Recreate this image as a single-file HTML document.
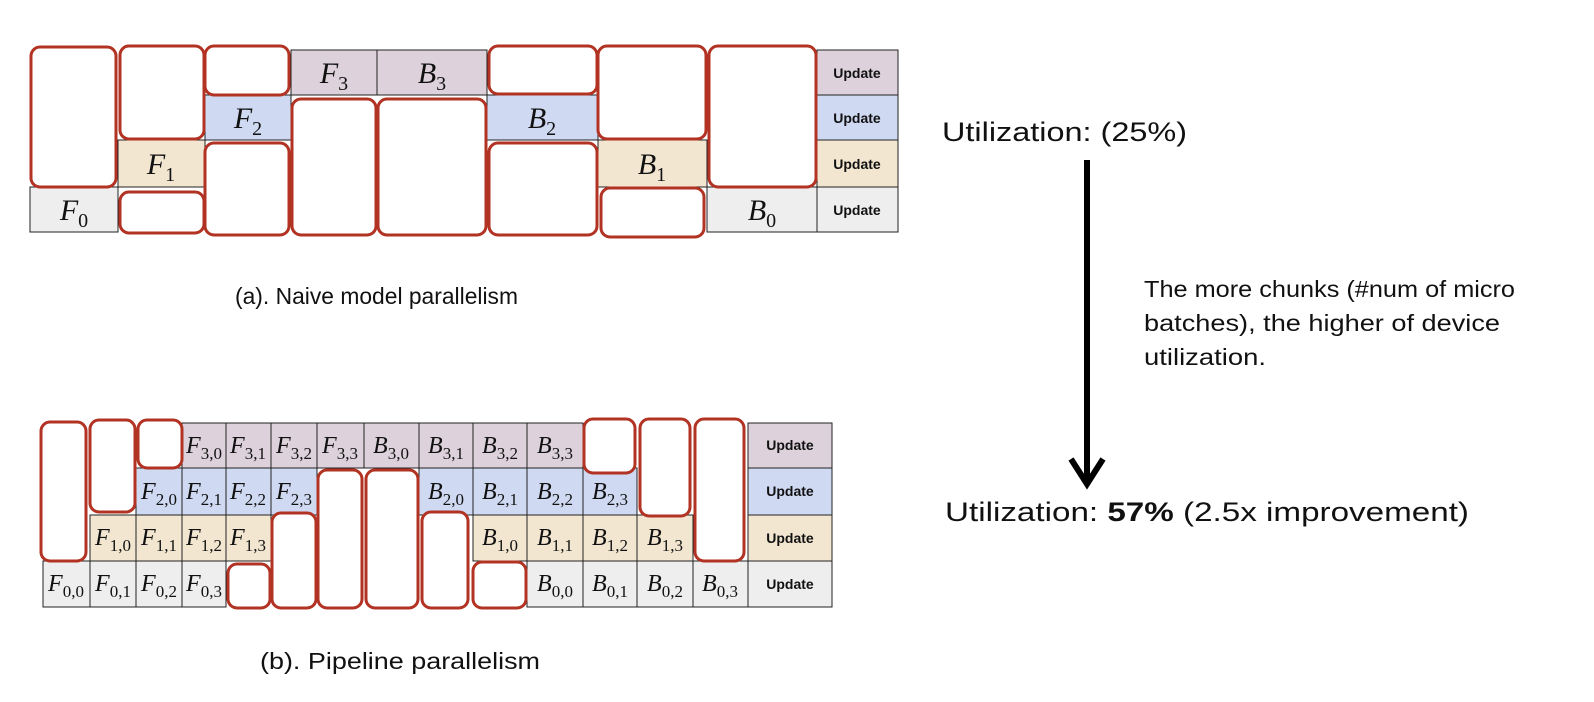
<!DOCTYPE html>
<html><head><meta charset="utf-8"><style>
html,body{margin:0;padding:0;background:#fff;}
svg{display:block}
.m{font-family:"Liberation Serif",serif;font-style:italic;fill:#111;}
.m tspan{font-style:normal}
.t{font-size:30px}.b{font-size:24px}
.u{font-family:"Liberation Sans",sans-serif;font-weight:bold;font-size:14px;fill:#111;}
.c{stroke:#222;stroke-width:1}
.r{fill:#fff;stroke:#b23323;stroke-width:3}
.p{fill:#ddd2db}.bl{fill:#cfd9f2}.tn{fill:#f2e6d1}.g{fill:#eeeeee}
.h{font-family:"Liberation Sans",sans-serif;fill:#111;}
</style></head><body>
<svg width="1594" height="702" viewBox="0 0 1594 702" xmlns="http://www.w3.org/2000/svg">
<!-- TOP -->
<g class="c">
<rect class="p" x="291" y="50" width="86" height="45"/>
<rect class="p" x="377" y="50" width="110" height="45"/>
<rect class="p" x="817" y="50" width="81" height="45"/>
<rect class="bl" x="205" y="95" width="86" height="45"/>
<rect class="bl" x="487" y="95" width="111" height="45"/>
<rect class="bl" x="817" y="95" width="81" height="45"/>
<rect class="tn" x="118" y="140" width="87" height="47"/>
<rect class="tn" x="598" y="140" width="109" height="47"/>
<rect class="tn" x="817" y="140" width="81" height="47"/>
<rect class="g" x="30" y="187" width="88" height="45"/>
<rect class="g" x="707" y="187" width="110" height="45"/>
<rect class="g" x="817" y="187" width="81" height="45"/>
</g>
<g>
<rect class="r" x="31" y="47" width="85" height="140" rx="9"/>
<rect class="r" x="120" y="46" width="84" height="93" rx="9"/>
<rect class="r" x="120" y="192" width="84" height="41" rx="9"/>
<rect class="r" x="205" y="46" width="84" height="49" rx="9"/>
<rect class="r" x="205" y="143" width="84" height="92" rx="9"/>
<rect class="r" x="292" y="99" width="84" height="136" rx="9"/>
<rect class="r" x="378" y="99" width="108" height="136" rx="9"/>
<rect class="r" x="489" y="46" width="108" height="48" rx="9"/>
<rect class="r" x="489" y="143" width="108" height="92" rx="9"/>
<rect class="r" x="598" y="46" width="108" height="93" rx="9"/>
<rect class="r" x="601" y="188" width="103" height="49" rx="9"/>
<rect class="r" x="709" y="46" width="107" height="141" rx="9"/>
</g>
<g class="m t" text-anchor="middle">
<text x="334" y="83">F<tspan font-size="20" dy="7">3</tspan></text>
<text x="432" y="83">B<tspan font-size="20" dy="7">3</tspan></text>
<text x="248" y="128">F<tspan font-size="20" dy="7">2</tspan></text>
<text x="542" y="128">B<tspan font-size="20" dy="7">2</tspan></text>
<text x="161" y="174">F<tspan font-size="20" dy="7">1</tspan></text>
<text x="652" y="174">B<tspan font-size="20" dy="7">1</tspan></text>
<text x="74" y="220">F<tspan font-size="20" dy="7">0</tspan></text>
<text x="762" y="220">B<tspan font-size="20" dy="7">0</tspan></text>
</g>
<g class="u" text-anchor="middle">
<text x="857" y="78">Update</text>
<text x="857" y="123">Update</text>
<text x="857" y="169">Update</text>
<text x="857" y="215">Update</text>
</g>
<text class="h" x="235" y="304" font-size="23" textLength="283" lengthAdjust="spacingAndGlyphs">(a). Naive model parallelism</text>

<!-- BOTTOM -->
<g class="c">
<rect class="p" x="182" y="423" width="44" height="45"/>
<rect class="p" x="226" y="423" width="45" height="45"/>
<rect class="p" x="271" y="423" width="46" height="45"/>
<rect class="p" x="317" y="423" width="47" height="45"/>
<rect class="p" x="364" y="423" width="55" height="45"/>
<rect class="p" x="419" y="423" width="54" height="45"/>
<rect class="p" x="473" y="423" width="54" height="45"/>
<rect class="p" x="527" y="423" width="56" height="45"/>
<rect class="p" x="748" y="423" width="84" height="45"/>

<rect class="bl" x="136" y="468" width="46" height="47"/>
<rect class="bl" x="182" y="468" width="44" height="47"/>
<rect class="bl" x="226" y="468" width="45" height="47"/>
<rect class="bl" x="271" y="468" width="46" height="47"/>
<rect class="bl" x="419" y="468" width="54" height="47"/>
<rect class="bl" x="473" y="468" width="54" height="47"/>
<rect class="bl" x="527" y="468" width="56" height="47"/>
<rect class="bl" x="583" y="468" width="54" height="47"/>
<rect class="bl" x="748" y="468" width="84" height="47"/>

<rect class="tn" x="90" y="515" width="46" height="46"/>
<rect class="tn" x="136" y="515" width="46" height="46"/>
<rect class="tn" x="182" y="515" width="44" height="46"/>
<rect class="tn" x="226" y="515" width="45" height="46"/>
<rect class="tn" x="473" y="515" width="54" height="46"/>
<rect class="tn" x="527" y="515" width="56" height="46"/>
<rect class="tn" x="583" y="515" width="54" height="46"/>
<rect class="tn" x="637" y="515" width="56" height="46"/>
<rect class="tn" x="748" y="515" width="84" height="46"/>

<rect class="g" x="43" y="561" width="47" height="46"/>
<rect class="g" x="90" y="561" width="46" height="46"/>
<rect class="g" x="136" y="561" width="46" height="46"/>
<rect class="g" x="182" y="561" width="44" height="46"/>
<rect class="g" x="527" y="561" width="56" height="46"/>
<rect class="g" x="583" y="561" width="54" height="46"/>
<rect class="g" x="637" y="561" width="56" height="46"/>
<rect class="g" x="693" y="561" width="55" height="46"/>
<rect class="g" x="748" y="561" width="84" height="46"/>
</g>
<g>
<rect class="r" x="41" y="422" width="45" height="139" rx="9"/>
<rect class="r" x="90" y="420" width="45" height="92" rx="9"/>
<rect class="r" x="138" y="420" width="44" height="48" rx="9"/>
<rect class="r" x="584" y="419" width="51" height="54" rx="9"/>
<rect class="r" x="640" y="419" width="50" height="97" rx="9"/>
<rect class="r" x="695" y="419" width="49" height="142" rx="9"/>
<rect class="r" x="318" y="470" width="44" height="138" rx="9"/>
<rect class="r" x="366" y="470" width="52" height="138" rx="9"/>
<rect class="r" x="272" y="513" width="44" height="95" rx="9"/>
<rect class="r" x="422" y="512" width="46" height="96" rx="9"/>
<rect class="r" x="228" y="564" width="42" height="44" rx="9"/>
<rect class="r" x="473" y="562" width="53" height="46" rx="9"/>
</g>
<g class="m b" text-anchor="middle">
<text x="204" y="453">F<tspan font-size="17" dy="6">3,0</tspan></text>
<text x="248" y="453">F<tspan font-size="17" dy="6">3,1</tspan></text>
<text x="294" y="453">F<tspan font-size="17" dy="6">3,2</tspan></text>
<text x="340" y="453">F<tspan font-size="17" dy="6">3,3</tspan></text>
<text x="391" y="453">B<tspan font-size="17" dy="6">3,0</tspan></text>
<text x="446" y="453">B<tspan font-size="17" dy="6">3,1</tspan></text>
<text x="500" y="453">B<tspan font-size="17" dy="6">3,2</tspan></text>
<text x="555" y="453">B<tspan font-size="17" dy="6">3,3</tspan></text>

<text x="159" y="499">F<tspan font-size="17" dy="6">2,0</tspan></text>
<text x="204" y="499">F<tspan font-size="17" dy="6">2,1</tspan></text>
<text x="248" y="499">F<tspan font-size="17" dy="6">2,2</tspan></text>
<text x="294" y="499">F<tspan font-size="17" dy="6">2,3</tspan></text>
<text x="446" y="499">B<tspan font-size="17" dy="6">2,0</tspan></text>
<text x="500" y="499">B<tspan font-size="17" dy="6">2,1</tspan></text>
<text x="555" y="499">B<tspan font-size="17" dy="6">2,2</tspan></text>
<text x="610" y="499">B<tspan font-size="17" dy="6">2,3</tspan></text>

<text x="113" y="545">F<tspan font-size="17" dy="6">1,0</tspan></text>
<text x="159" y="545">F<tspan font-size="17" dy="6">1,1</tspan></text>
<text x="204" y="545">F<tspan font-size="17" dy="6">1,2</tspan></text>
<text x="248" y="545">F<tspan font-size="17" dy="6">1,3</tspan></text>
<text x="500" y="545">B<tspan font-size="17" dy="6">1,0</tspan></text>
<text x="555" y="545">B<tspan font-size="17" dy="6">1,1</tspan></text>
<text x="610" y="545">B<tspan font-size="17" dy="6">1,2</tspan></text>
<text x="665" y="545">B<tspan font-size="17" dy="6">1,3</tspan></text>

<text x="66" y="591">F<tspan font-size="17" dy="6">0,0</tspan></text>
<text x="113" y="591">F<tspan font-size="17" dy="6">0,1</tspan></text>
<text x="159" y="591">F<tspan font-size="17" dy="6">0,2</tspan></text>
<text x="204" y="591">F<tspan font-size="17" dy="6">0,3</tspan></text>
<text x="555" y="591">B<tspan font-size="17" dy="6">0,0</tspan></text>
<text x="610" y="591">B<tspan font-size="17" dy="6">0,1</tspan></text>
<text x="665" y="591">B<tspan font-size="17" dy="6">0,2</tspan></text>
<text x="720" y="591">B<tspan font-size="17" dy="6">0,3</tspan></text>
</g>
<g class="u" text-anchor="middle">
<text x="790" y="450">Update</text>
<text x="790" y="496">Update</text>
<text x="790" y="543">Update</text>
<text x="790" y="589">Update</text>
</g>
<text class="h" x="260" y="669" font-size="23" textLength="280" lengthAdjust="spacingAndGlyphs">(b). Pipeline parallelism</text>

<!-- RIGHT -->
<text class="h" x="942" y="141" font-size="27" textLength="245" lengthAdjust="spacingAndGlyphs">Utilization: (25%)</text>
<line x1="1087" y1="160" x2="1087" y2="482" stroke="#000" stroke-width="6"/>
<polyline points="1071,459 1087,484 1103,459" fill="none" stroke="#000" stroke-width="6"/>
<text class="h" x="1144" y="297" font-size="23" textLength="371" lengthAdjust="spacingAndGlyphs">The more chunks (#num of micro</text>
<text class="h" x="1144" y="331" font-size="23" textLength="356" lengthAdjust="spacingAndGlyphs">batches), the higher of device</text>
<text class="h" x="1144" y="365" font-size="23" textLength="122" lengthAdjust="spacingAndGlyphs">utilization.</text>
<text class="h" x="945" y="521" font-size="27" textLength="524" lengthAdjust="spacingAndGlyphs">Utilization: <tspan font-weight="bold">57%</tspan> (2.5x improvement)</text>
</svg>
</body></html>
